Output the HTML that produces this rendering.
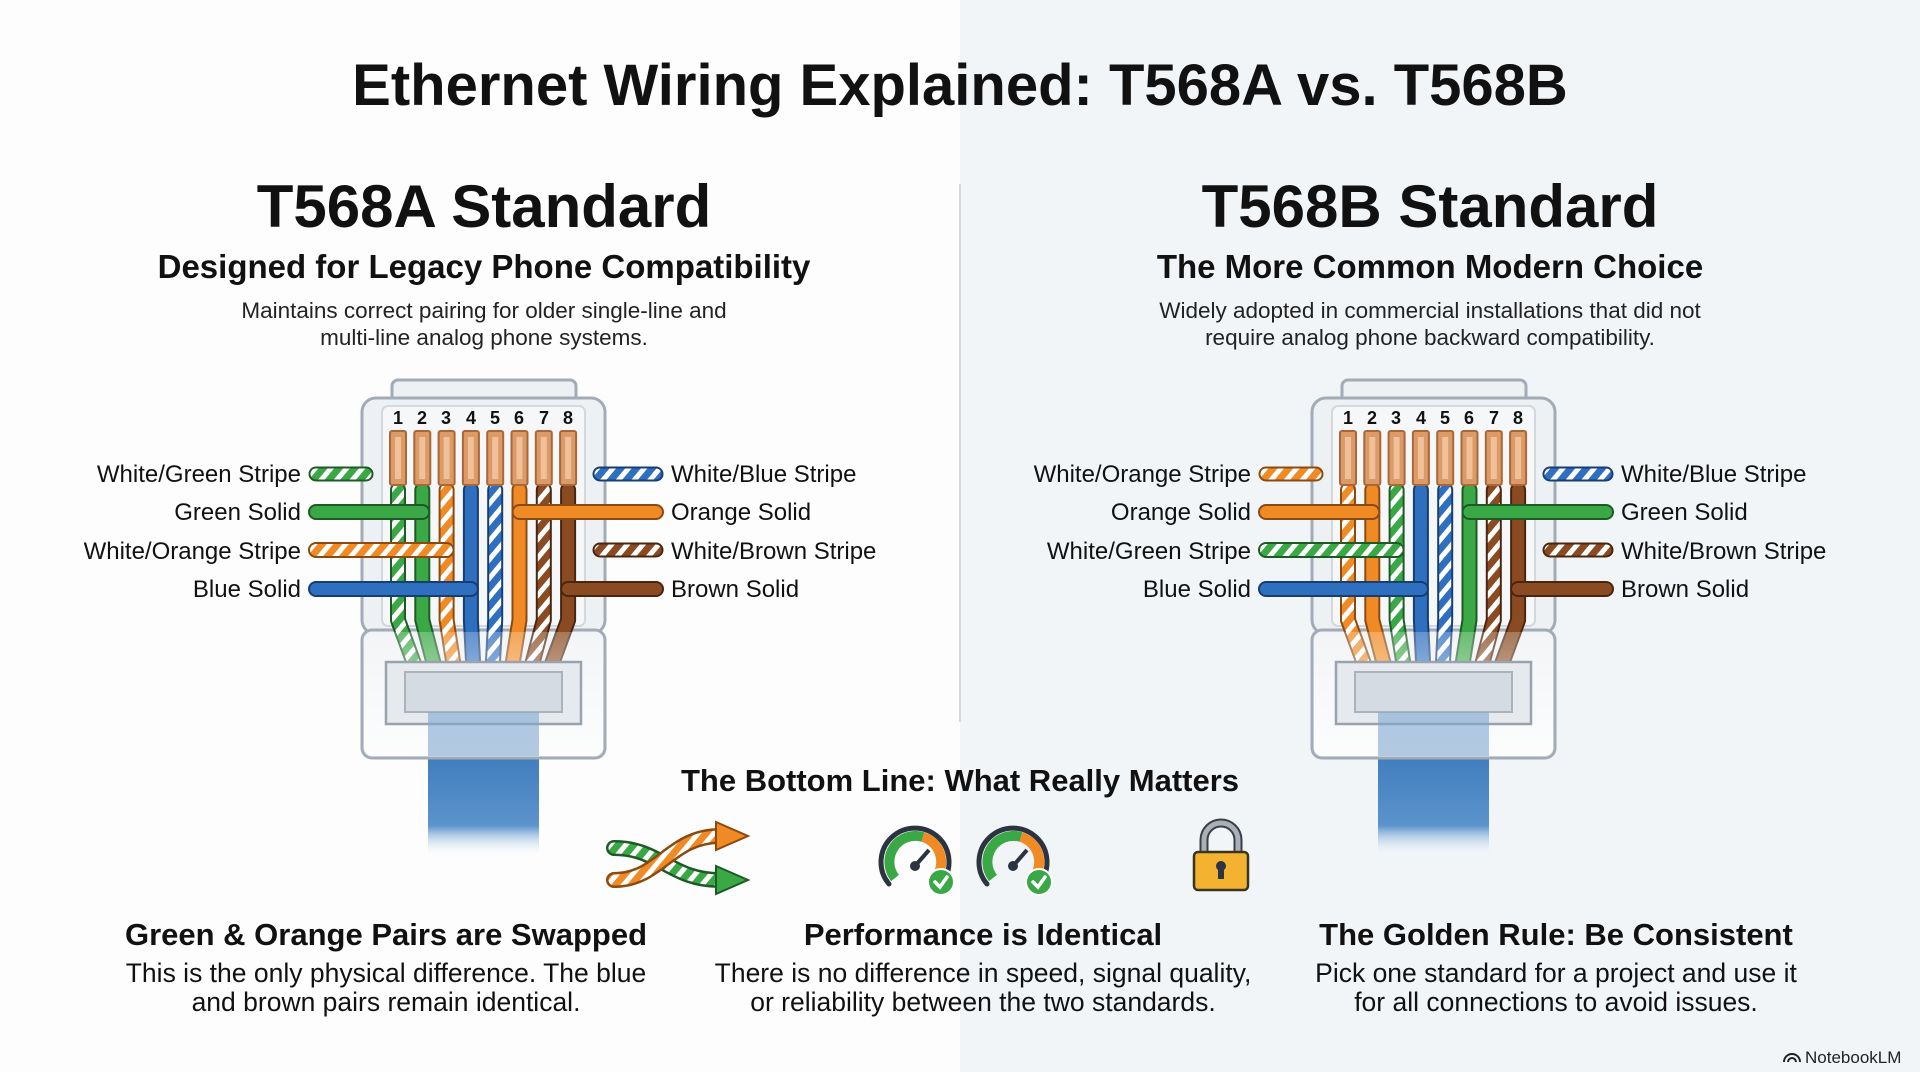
<!DOCTYPE html>
<html><head><meta charset="utf-8"><style>
html,body{margin:0;padding:0;width:1920px;height:1072px;overflow:hidden;font-family:"Liberation Sans",sans-serif;}
body{background:linear-gradient(90deg,#fdfdfd 0,#fdfdfd 960px,#f2f5f8 960px,#f2f5f8 1920px);}
svg{position:absolute;left:0;top:0}
</style></head><body>
<svg width="1920" height="1072" viewBox="0 0 1920 1072" xmlns="http://www.w3.org/2000/svg" font-family="Liberation Sans, sans-serif">
<defs>
<pattern id="pg" width="12" height="12" patternUnits="userSpaceOnUse" patternTransform="rotate(40)"><rect width="12" height="12" fill="#3aa845"/><rect width="5" height="12" fill="#fff"/></pattern>
<pattern id="po" width="12" height="12" patternUnits="userSpaceOnUse" patternTransform="rotate(40)"><rect width="12" height="12" fill="#f08a24"/><rect width="5" height="12" fill="#fff"/></pattern>
<pattern id="pb" width="12" height="12" patternUnits="userSpaceOnUse" patternTransform="rotate(40)"><rect width="12" height="12" fill="#2f6fc0"/><rect width="5" height="12" fill="#fff"/></pattern>
<pattern id="pr" width="12" height="12" patternUnits="userSpaceOnUse" patternTransform="rotate(40)"><rect width="12" height="12" fill="#8a4b22"/><rect width="5" height="12" fill="#fff"/></pattern>
<linearGradient id="cab" x1="0" y1="0" x2="0" y2="1"><stop offset="0" stop-color="#3f7cbc"/><stop offset="0.7" stop-color="#5b93cc"/><stop offset="1" stop-color="#ffffff" stop-opacity="0"/></linearGradient>
<linearGradient id="fade" x1="0" y1="0" x2="0" y2="1"><stop offset="0" stop-color="#fff" stop-opacity="0.25"/><stop offset="1" stop-color="#fff" stop-opacity="0.85"/></linearGradient>
</defs>

<line x1="960" y1="184" x2="960" y2="722" stroke="#d5d9de" stroke-width="2"/>

<text x="960" y="105" text-anchor="middle" font-size="58" font-weight="bold" fill="#111">Ethernet Wiring Explained: T568A vs. T568B</text>

<text x="484" y="227" text-anchor="middle" font-size="60" font-weight="bold" fill="#111">T568A Standard</text>
<text x="484" y="278" text-anchor="middle" font-size="33" font-weight="bold" fill="#111">Designed for Legacy Phone Compatibility</text>
<text x="484" y="318" text-anchor="middle" font-size="22.5" fill="#222">Maintains correct pairing for older single-line and</text>
<text x="484" y="345" text-anchor="middle" font-size="22.5" fill="#222">multi-line analog phone systems.</text>

<text x="1430" y="227" text-anchor="middle" font-size="60" font-weight="bold" fill="#111">T568B Standard</text>
<text x="1430" y="278" text-anchor="middle" font-size="33" font-weight="bold" fill="#111">The More Common Modern Choice</text>
<text x="1430" y="318" text-anchor="middle" font-size="22.5" fill="#222">Widely adopted in commercial installations that did not</text>
<text x="1430" y="345" text-anchor="middle" font-size="22.5" fill="#222">require analog phone backward compatibility.</text>

<g id="connA"></g>
<g id="connB" transform="translate(950,0)"></g>

<g font-size="24" fill="#111">
<text x="301" y="482" text-anchor="end">White/Green Stripe</text>
<text x="301" y="520" text-anchor="end">Green Solid</text>
<text x="301" y="559" text-anchor="end">White/Orange Stripe</text>
<text x="301" y="597" text-anchor="end">Blue Solid</text>
<text x="671" y="482">White/Blue Stripe</text>
<text x="671" y="520">Orange Solid</text>
<text x="671" y="559">White/Brown Stripe</text>
<text x="671" y="597">Brown Solid</text>
<text x="1251" y="482" text-anchor="end">White/Orange Stripe</text>
<text x="1251" y="520" text-anchor="end">Orange Solid</text>
<text x="1251" y="559" text-anchor="end">White/Green Stripe</text>
<text x="1251" y="597" text-anchor="end">Blue Solid</text>
<text x="1621" y="482">White/Blue Stripe</text>
<text x="1621" y="520">Green Solid</text>
<text x="1621" y="559">White/Brown Stripe</text>
<text x="1621" y="597">Brown Solid</text>
</g>
<g font-size="18" font-weight="bold" fill="#111" text-anchor="middle">
<text x="398" y="424">1</text><text x="422" y="424">2</text><text x="446" y="424">3</text><text x="471" y="424">4</text><text x="495" y="424">5</text><text x="519" y="424">6</text><text x="544" y="424">7</text><text x="568" y="424">8</text>
<text x="1348" y="424">1</text><text x="1372" y="424">2</text><text x="1396" y="424">3</text><text x="1421" y="424">4</text><text x="1445" y="424">5</text><text x="1469" y="424">6</text><text x="1494" y="424">7</text><text x="1518" y="424">8</text>
</g>

<text x="960" y="791" text-anchor="middle" font-size="31" font-weight="bold" fill="#111">The Bottom Line: What Really Matters</text>

<g>
<path d="M614 848 C660 848 670 880 720 880" stroke="#1e5a25" stroke-width="16" fill="none" stroke-linecap="round"/>
<path d="M614 848 C660 848 670 880 720 880" stroke="url(#pg)" stroke-width="11" fill="none" stroke-linecap="round"/>
<polygon points="716,866 748,880 716,894" fill="#3aa845" stroke="#1e5a25" stroke-width="2"/>
<path d="M614 880 C660 880 670 836 720 836" stroke="#8a4a10" stroke-width="16" fill="none" stroke-linecap="round"/>
<path d="M614 880 C660 880 670 836 720 836" stroke="url(#po)" stroke-width="11" fill="none" stroke-linecap="round"/>
<polygon points="716,822 748,836 716,850" fill="#f08a24" stroke="#8a4a10" stroke-width="2"/>
</g>
<g id="g1" transform="translate(915,862)"></g>
<g id="g2" transform="translate(1013,862)"></g>
<path d="M1204 853 V840 a17 17 0 0 1 34 0 V853" stroke="#3a3f45" stroke-width="9" fill="none"/>
<path d="M1204 853 V840 a17 17 0 0 1 34 0 V853" stroke="#a9b0b8" stroke-width="5" fill="none"/>
<rect x="1194" y="852" width="54" height="38" rx="4" fill="#f4b231" stroke="#3a3520" stroke-width="2.5"/>
<circle cx="1221" cy="866" r="5" fill="#2b3440"/><rect x="1218" y="867" width="6" height="12" fill="#2b3440"/>

<g text-anchor="middle" fill="#111">
<text x="386" y="945" font-size="31" font-weight="bold">Green &amp; Orange Pairs are Swapped</text>
<text x="386" y="982" font-size="26.5">This is the only physical difference. The blue</text>
<text x="386" y="1011" font-size="26.5">and brown pairs remain identical.</text>
<text x="983" y="945" font-size="31" font-weight="bold">Performance is Identical</text>
<text x="983" y="982" font-size="26.5">There is no difference in speed, signal quality,</text>
<text x="983" y="1011" font-size="26.5">or reliability between the two standards.</text>
<text x="1556" y="945" font-size="31" font-weight="bold">The Golden Rule: Be Consistent</text>
<text x="1556" y="982" font-size="26.5">Pick one standard for a project and use it</text>
<text x="1556" y="1011" font-size="26.5">for all connections to avoid issues.</text>
</g>
<text x="1805" y="1063" font-size="17" fill="#222">NotebookLM</text>
<path d="M1784 1062 a8 8 0 0 1 16 0 M1788 1062 a4 4 0 0 1 8 0" stroke="#222" stroke-width="2" fill="none"/>
</svg>
<script>
var NS="http://www.w3.org/2000/svg";
function el(p,t,a){var e=document.createElementNS(NS,t);for(var k in a)e.setAttribute(k,a[k]);p.appendChild(e);return e;}
var C={g:"#3aa845",o:"#f08a24",b:"#2f6fc0",r:"#8a4b22"},D={g:"#1e5a25",o:"#8a4a10",b:"#173e70",r:"#4a2610"};
function fill(w){return w[0]=="w"?"url(#p"+w[1]+")":C[w[1]];}
function wire(p,pts,w,sw){var d="M"+pts.map(function(q){return q.join(" ")}).join(" L");
 el(p,"path",{d:d,stroke:D[w[1]],"stroke-width":sw+4,fill:"none","stroke-linecap":"round","stroke-linejoin":"round"});
 el(p,"path",{d:d,stroke:fill(w),"stroke-width":sw,fill:"none","stroke-linecap":"round","stroke-linejoin":"round"});}
function conn(g,pins,left,right){
 el(g,"rect",{x:392,y:380,width:184,height:34,rx:6,fill:"#eef1f4",stroke:"#a3acb6","stroke-width":3});
 el(g,"rect",{x:362,y:398,width:243,height:236,rx:14,fill:"#eef1f4",stroke:"#a3acb6","stroke-width":3});
 el(g,"rect",{x:382,y:406,width:203,height:220,rx:6,fill:"#f5f7f9",stroke:"#d3d8de","stroke-width":2});
 var px=[];for(var i=0;i<8;i++)px.push(398+24.3*i);
 el(g,"rect",{x:428,y:752,width:111,height:105,fill:"url(#cab)"});
 el(g,"rect",{x:362,y:630,width:243,height:128,rx:10,fill:"#eef1f4",stroke:"#a3acb6","stroke-width":3});
 for(var i=0;i<8;i++){var x=px[i];var bx=420+18*i;
  wire(g,[[x,490],[x,620],[bx,680]],pins[i],12);}
 el(g,"rect",{x:364,y:632,width:239,height:124,rx:9,fill:"url(#fade)"});
 el(g,"rect",{x:386,y:662,width:195,height:62,fill:"#e6eaee",stroke:"#9aa3ad","stroke-width":2.5});
 el(g,"rect",{x:405,y:672,width:157,height:40,fill:"#d4dbe2",stroke:"#aab3bc","stroke-width":2});
 el(g,"rect",{x:428,y:712,width:111,height:44,fill:"#7fa6cf",opacity:0.6});
 for(var i=0;i<8;i++){el(g,"rect",{x:px[i]-8,y:431,width:16,height:54,rx:2,fill:"#dc9a66",stroke:"#a9683a","stroke-width":2});
  el(g,"rect",{x:px[i]-3,y:437,width:6,height:42,fill:"#efc09a"});}
 var ry=[474,512,550,589];
 for(var r=0;r<4;r++){var L=left[r];
  if(L[1]>=0)wire(g,[[316,ry[r]],[px[L[1]],ry[r]]],L[0],12);else wire(g,[[316,ry[r]],[366,ry[r]]],L[0],11);
  var R=right[r];
  if(R[1]>=0)wire(g,[[656,ry[r]],[px[R[1]],ry[r]]],R[0],12);else wire(g,[[600,ry[r]],[656,ry[r]]],R[0],11);}
}
conn(document.getElementById("connA"),["wg","sg","wo","sb","wb","so","wr","sr"],
 [["wg",-1],["sg",1],["wo",2],["sb",3]],[["wb",-1],["so",5],["wr",-1],["sr",7]]);
conn(document.getElementById("connB"),["wo","so","wg","sb","wb","sg","wr","sr"],
 [["wo",-1],["so",1],["wg",2],["sb",3]],[["wb",-1],["sg",5],["wr",-1],["sr",7]]);
function gauge(g){
 el(g,"path",{d:"M-26 22 A34 34 0 1 1 26 22",stroke:"#2b3440","stroke-width":5,fill:"none","stroke-linecap":"round"});
 el(g,"path",{d:"M-20 16 A26 26 0 0 1 8 -25",stroke:"#3aa845","stroke-width":10,fill:"none"});
 el(g,"path",{d:"M8 -25 A26 26 0 0 1 22 14",stroke:"#f08a24","stroke-width":10,fill:"none"});
 el(g,"line",{x1:0,y1:4,x2:14,y2:-12,stroke:"#2b3440","stroke-width":4});
 el(g,"circle",{cx:0,cy:4,r:5,fill:"#2b3440"});
 el(g,"circle",{cx:26,cy:20,r:13,fill:"#3aa845",stroke:"#fff","stroke-width":2});
 el(g,"path",{d:"M20 20 L25 25 L32 15",stroke:"#fff","stroke-width":3.5,fill:"none","stroke-linecap":"round"});
}
gauge(document.getElementById("g1"));gauge(document.getElementById("g2"));
</script>
</body></html>
